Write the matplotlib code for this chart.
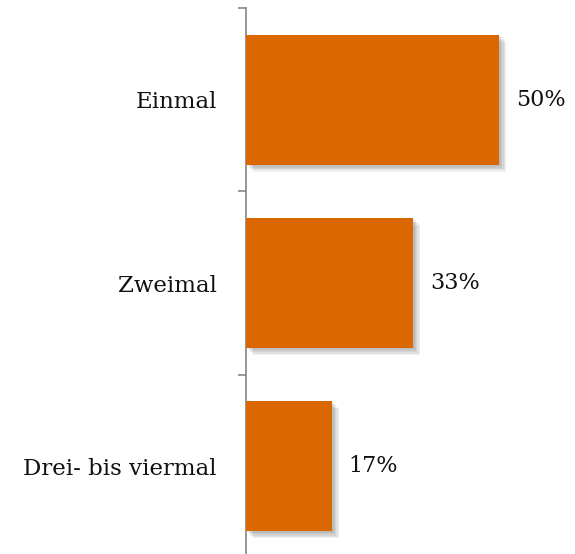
import numpy as np
import matplotlib.pyplot as plt
import matplotlib.patheffects as pe

categories = ["Einmal", "Zweimal", "Drei- bis viermal"]
values = [50, 33, 17]
value_labels = ["50%", "33%", "17%"]

plt.rcParams['font.family'] = ['DejaVu Serif']

fig = plt.figure(figsize=(5.75, 5.54), dpi=100)
# axis line at x=246px, category boundaries at y=8 and y=558
ax = fig.add_axes([246 / 575, (554 - 558) / 554, 304 / 575, 550 / 554])

shadow = [pe.SimplePatchShadow(offset=(dx, -dx), shadow_rgbFace='black', alpha=0.06)
          for dx in (1, 2, 3, 4, 5)] + [pe.Normal()]

y = np.arange(len(categories))
bars = ax.barh(y, values, height=0.71, color='#DB6700', zorder=3)
for b in bars:
    b.set_path_effects(shadow)

for yi, v, lab in zip(y, values, value_labels):
    ax.annotate(lab, (v, yi), xytext=(12, 0), textcoords='offset points',
                va='center', ha='left', fontsize=16, color='#111111')

ax.set_xlim(0, 60)
ax.set_ylim(len(categories) - 0.5, -0.5)
ax.set_yticks(y)
ax.set_yticklabels(categories, fontsize=16.5, color='#111111')
ax.set_yticks(np.arange(len(categories) + 1) - 0.5, minor=True)
ax.tick_params(axis='y', which='major', length=0, pad=21)
ax.tick_params(axis='y', which='minor', length=6, width=1.2, color='#868686')
ax.set_xticks([])
for s in ['top', 'right', 'bottom']:
    ax.spines[s].set_visible(False)
ax.spines['left'].set_color('#868686')
ax.spines['left'].set_linewidth(1.2)

fig.savefig('out.png', dpi=100)
